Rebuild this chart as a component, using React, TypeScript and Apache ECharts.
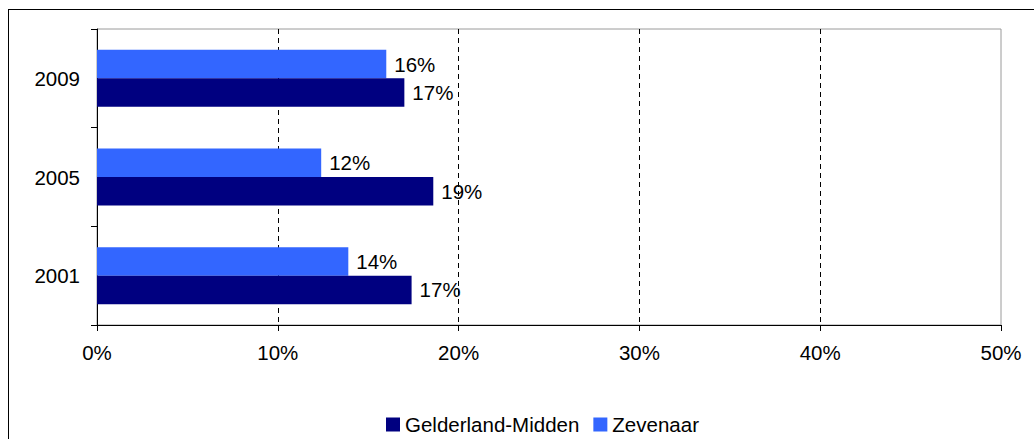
import React, { useEffect, useRef } from "react";
import * as echarts from "echarts";

const categories = ["2001", "2005", "2009"];
const gelderland = [17.4, 18.6, 17.0];
const zevenaar = [13.9, 12.4, 16.0];
const xTicks = [0, 10, 20, 30, 40, 50];

export default function App() {
  const ref = useRef<HTMLDivElement>(null);
  useEffect(() => {
    if (!ref.current) return;
    const chart = echarts.init(ref.current, undefined, { renderer: "svg" });
    const font = "'Liberation Sans', Arial, sans-serif";
    const fs = 20.5;
    const label = {
      show: true,
      position: "right",
      distance: 8,
      color: "#000",
      fontSize: fs,
      fontFamily: font,
      formatter: (p: any) => Math.round(p.value) + "%",
    };
    chart.setOption({
      animation: false,
      backgroundColor: "#fff",
      textStyle: { fontFamily: font },
      grid: {
        left: 97,
        right: 33,
        top: 29,
        bottom: 114,
        show: true,
        borderColor: "#9a9a9a",
        borderWidth: 1,
        containLabel: false,
      },
      legend: {
        data: ["Gelderland-Midden", "Zevenaar"],
        left: 381,
        top: 409,
        itemWidth: 14,
        itemHeight: 14,
        itemGap: 14,
        icon: "rect",
        textStyle: { fontSize: fs, color: "#000", fontFamily: font },
      },
      xAxis: {
        type: "value",
        min: 0,
        max: 50,
        interval: 10,
        axisLine: { show: true, lineStyle: { color: "#000", width: 1 } },
        axisTick: { show: true, length: 6, lineStyle: { color: "#000" } },
        axisLabel: {
          margin: 17,
          fontSize: fs,
          color: "#000",
          fontFamily: font,
          formatter: (v: number) => (xTicks.includes(v) ? v + "%" : ""),
        },
        splitLine: {
          show: true,
          showMinLine: false,
          showMaxLine: false,
          lineStyle: { color: "#000", type: [5, 4], width: 1 },
        },
      },
      yAxis: {
        type: "category",
        data: categories,
        axisLine: { show: true, lineStyle: { color: "#000", width: 1 } },
        axisTick: { show: true, length: 6, alignWithLabel: false, lineStyle: { color: "#000" } },
        axisLabel: { margin: 17, fontSize: fs, color: "#000", fontFamily: font },
        splitLine: { show: false },
      },
      series: [
        {
          name: "Zevenaar",
          type: "bar",
          data: zevenaar,
          barWidth: 28.5,
          barGap: "0%",
          itemStyle: { color: "#3366FF" },
          label,
        },
        {
          name: "Gelderland-Midden",
          type: "bar",
          data: gelderland,
          barWidth: 28.5,
          barGap: "0%",
          itemStyle: { color: "#000080" },
          label,
        },
      ],
    });
    return () => chart.dispose();
  }, []);
  return (
    <div style={{ position: "absolute", left: 0, top: 0, width: 1034, height: 439, overflow: "hidden" }}>
      <div ref={ref} style={{ position: "absolute", left: 0, top: 0, width: 1034, height: 439 }} />
      <div
        style={{
          position: "absolute",
          left: 8,
          top: 9,
          width: 1040,
          height: 440,
          borderLeft: "1px solid #000",
          borderTop: "1px solid #000",
          pointerEvents: "none",
        }}
      />
    </div>
  );
}
